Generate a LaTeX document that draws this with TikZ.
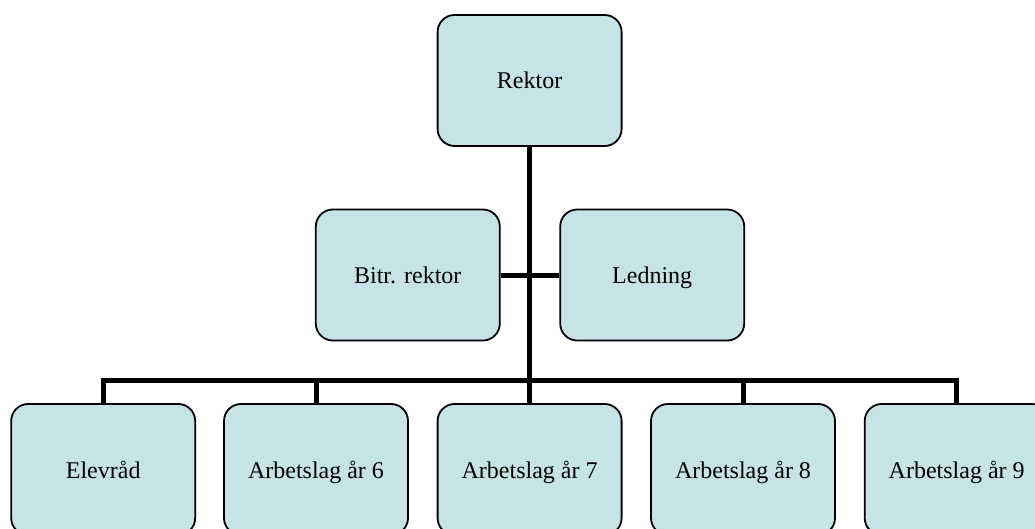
\documentclass[tikz,border=0pt]{standalone}
\usepackage{fontspec}
\setmainfont{Liberation Serif}
\definecolor{boxfill}{RGB}{198,228,232}
\begin{document}
\begin{tikzpicture}[x=1pt,y=-1pt,
  orgbox/.style={draw=black, line width=1.8pt, fill=boxfill, rectangle, rounded corners=17pt,
    minimum width=184pt, minimum height=131pt, inner sep=0pt,
    text height=17pt, text depth=0pt,
    font=\fontsize{24}{28}\selectfont},
  conn/.style={draw=black, line width=5pt}]
\useasboundingbox (0,0) rectangle (1035,529);
\node[orgbox] (rektor) at (529.6,80.5) {Rektor};
\node[orgbox] (bitr) at (407.8,275) {Bitr. rektor};
\node[orgbox] (ledning) at (652.2,275) {Ledning};
\node[orgbox] (elev) at (103.2,469.5) {Elevråd};
\node[orgbox] (a6) at (316,469.5) {Arbetslag år 6};
\node[orgbox] (a7) at (529.6,469.5) {Arbetslag år 7};
\node[orgbox] (a8) at (743,469.5) {Arbetslag år 8};
\node[orgbox] (a9) at (956.7,469.5) {Arbetslag år 9};
\coordinate (hub) at (529.6,380.8);
\draw[conn] (bitr.east) -- (ledning.west);
\draw[conn] (rektor.south) -- (hub);
\draw[conn] (elev.north) |- (hub);
\draw[conn] (a6.north) |- (hub);
\draw[conn] (a7.north) -- (hub);
\draw[conn] (a8.north) |- (hub);
\draw[conn] (a9.north) |- (hub);
\end{tikzpicture}
\end{document}
